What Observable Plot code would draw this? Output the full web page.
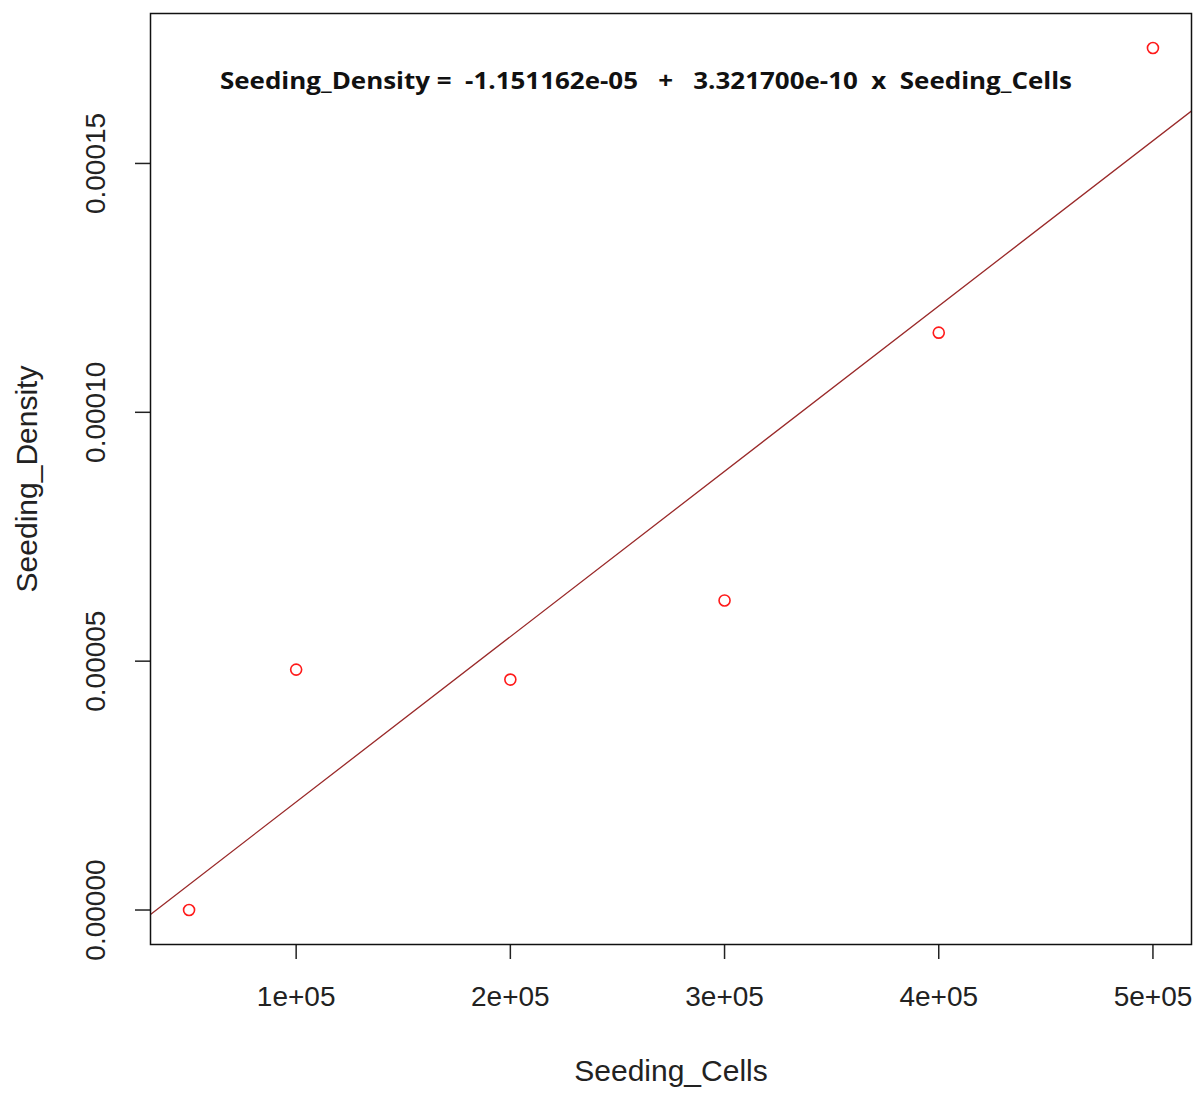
<!DOCTYPE html>
<html>
<head>
<meta charset="utf-8">
<script src="https://cdn.jsdelivr.net/npm/d3@7"></script>
<script src="https://cdn.jsdelivr.net/npm/@observablehq/plot@0.6"></script>
<style>
  html, body { margin: 0; padding: 0; background: #fff; }
  #chart svg { display: block; }
</style>
</head>
<body>
<div id="chart"></div>
<script>
const seedingCells = [50000, 100000, 200000, 300000, 400000, 500000];
const seedingDensity = [0.0, 4.83e-5, 4.63e-5, 6.22e-5, 1.160e-4, 1.732e-4];
const coefficients = [-1.151162e-05, 3.321700e-10]; // intercept, slope
const xTicks = [1e5, 2e5, 3e5, 4e5, 5e5];
const xTickLabels = ["1e+05", "2e+05", "3e+05", "4e+05", "5e+05"];
const yTicks = [0, 5e-5, 1e-4, 1.5e-4];
const yTickLabels = ["0.00000", "0.00005", "0.00010", "0.00015"];
const equation = "Seeding_Density =  -1.151162e-05   +   3.321700e-10  x  Seeding_Cells";

const points = seedingCells.map((x, i) => ({x, y: seedingDensity[i]}));
const pad = (lo, hi) => { const r = hi - lo; return [lo - 0.04 * r, hi + 0.04 * r]; };
const xDomain = pad(d3.min(seedingCells), d3.max(seedingCells));
const yDomain = pad(d3.min(seedingDensity), d3.max(seedingDensity));
const fitLine = xDomain.map(x => ({x, y: coefficients[0] + coefficients[1] * x}));

const chart = Plot.plot({
  width: 1201,
  height: 1093,
  marginLeft: 150,
  marginRight: 10,
  marginTop: 13,
  marginBottom: 149,
  style: {fontFamily: "'Liberation Sans', Arial, sans-serif", background: "#fff"},
  x: {domain: xDomain},
  y: {domain: yDomain},
  marks: [
    Plot.axisX({ticks: xTicks, tickFormat: d => xTickLabels[xTicks.indexOf(d)], tickSize: 15, tickPadding: 27, fontSize: 28, color: "#222", strokeWidth: 1.5, label: null}),
    Plot.axisY({ticks: yTicks, tickFormat: d => yTickLabels[yTicks.indexOf(d)], tickSize: 15, tickPadding: 31, tickRotate: -90, fontSize: 28, color: "#222", strokeWidth: 1.5, label: null}),
    Plot.text(["Seeding_Cells"], {frameAnchor: "bottom", dy: 136, fontSize: 30, fill: "#222"}),
    Plot.text(["Seeding_Density"], {frameAnchor: "left", dx: -123, rotate: -90, textAnchor: "middle", fontSize: 30, fill: "#222"}),
    Plot.line(fitLine, {x: "x", y: "y", stroke: "#9a2a2a", strokeWidth: 1.3, clip: true}),
    Plot.dot(points, {x: "x", y: "y", r: 5.5, stroke: "#ff1a1a", strokeWidth: 1.6, fill: "none"}),
    Plot.text([equation], {frameAnchor: "top", dy: 59, dx: -25, fontSize: 23, fontWeight: "bold", fill: "#111", fontFamily: "'Open Sans', sans-serif", className: "eq"}),
    Plot.frame({stroke: "#111", strokeWidth: 1.5})
  ]
});
document.getElementById("chart").appendChild(chart);
// stretch the equation text to its width in the original
d3.select(chart).selectAll(".eq text").attr("textLength", 852).attr("lengthAdjust", "spacingAndGlyphs");
</script>
</body>
</html>
